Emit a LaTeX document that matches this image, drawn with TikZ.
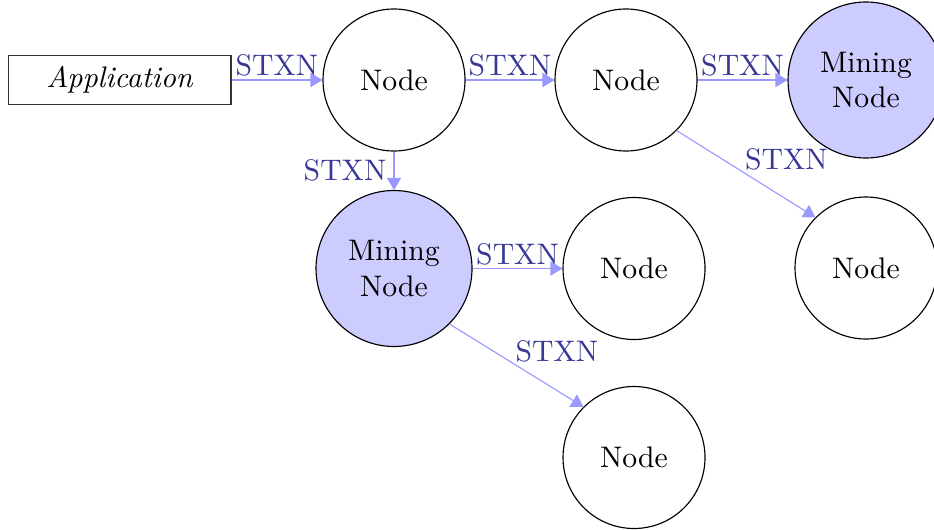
\documentclass[tikz,border=0pt]{standalone}
\usetikzlibrary{arrows.meta}
\definecolor{stxnline}{RGB}{153,153,255}
\definecolor{stxntext}{RGB}{55,55,150}
\definecolor{minefill}{RGB}{204,204,255}
\begin{document}
\begin{tikzpicture}[x=0.35pt,y=-0.35pt,
  every node/.style={font=\fontsize{10.4}{12.4}\selectfont},
  peer/.style={circle,draw,minimum size=49.7pt,inner sep=0pt},
  miner/.style={circle,draw,fill=minefill,minimum size=54.6pt,inner sep=0pt,align=center},
  app/.style={rectangle,draw=black!80,minimum width=78pt,minimum height=17.2pt,font=\fontsize{10.4}{12.4}\selectfont\itshape},
  tx/.style={draw=stxnline,-{Triangle[length=4.2pt,width=5pt]}},
  lbl/.style={text=stxntext,inner sep=1pt}]
\useasboundingbox (0,0) rectangle (934,529);
% peers and miners
\node[app] (app) at (119.5,80) {Application};
\node[peer] (n1) at (394,80) {Node};
\node[peer] (n2) at (626,80) {Node};
\node[miner] (m1) at (866,80) {Mining\\Node};
\node[miner] (m2) at (394,268.5) {Mining\\Node};
\node[peer] (n3) at (634,268.5) {Node};
\node[peer] (n4) at (866,268) {Node};
\node[peer] (n5) at (634,457.5) {Node};
% transaction propagation
\draw[tx] (app) -- node[lbl,anchor=south]{STXN} (n1);
\draw[tx] (n1) -- node[lbl,anchor=south]{STXN} (n2);
\draw[tx] (n2) -- node[lbl,anchor=south]{STXN} (m1);
\draw[tx] (n1) -- node[lbl,anchor=east,inner sep=2.5pt]{STXN} (m2);
\draw[tx] (n2.south east) -- node[lbl,anchor=south west,xshift=-1.5pt]{STXN} (n4.north west);
\draw[tx] (m2) -- node[lbl,anchor=south]{STXN} (n3);
\draw[tx] (m2.south east) -- node[lbl,anchor=south west,xshift=-1.5pt]{STXN} (n5.north west);
\end{tikzpicture}
\end{document}
